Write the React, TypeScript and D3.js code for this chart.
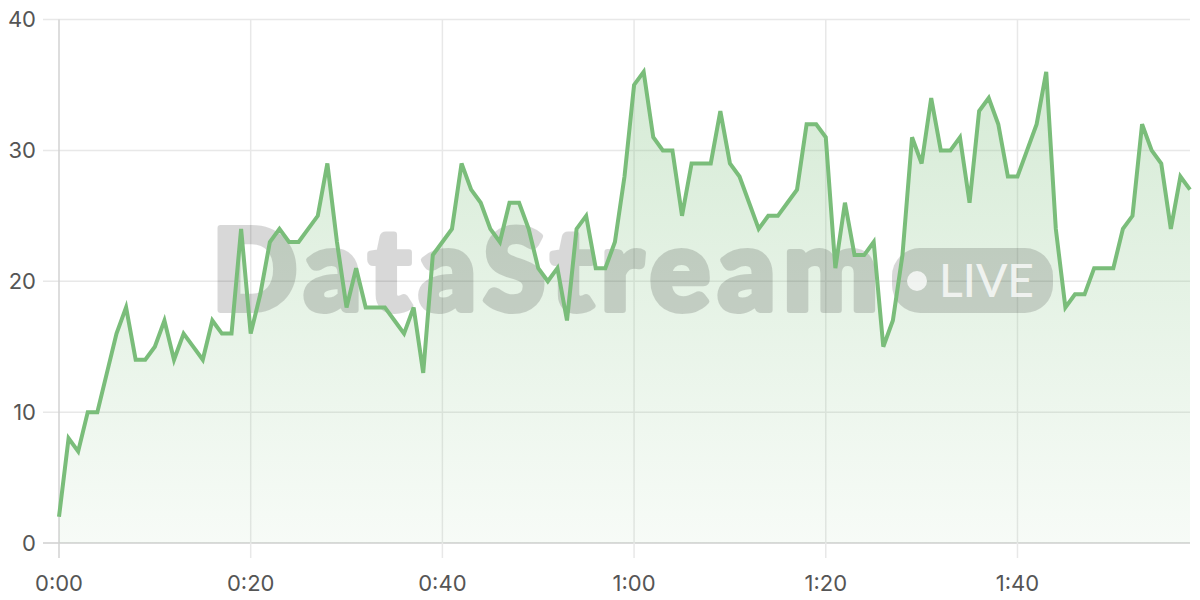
import React from "react";
import * as d3 from "d3";

const seconds: number[] = d3.range(0, 119);
const values: number[] = [
  2, 8, 7, 10, 10, 13, 16, 18, 14, 14, 15, 17, 14, 16, 15, 14, 17, 16, 16, 24,
  16, 19, 23, 24, 23, 23, 24, 25, 29, 23, 18, 21, 18, 18, 18, 17, 16, 18, 13, 22,
  23, 24, 29, 27, 26, 24, 23, 26, 26, 24, 21, 20, 21, 17, 24, 25, 21, 21, 23, 28,
  35, 36, 31, 30, 30, 25, 29, 29, 29, 33, 29, 28, 26, 24, 25, 25, 26, 27, 32, 32,
  31, 21, 26, 22, 22, 23, 15, 17, 22, 31, 29, 34, 30, 30, 31, 26, 33, 34, 32, 28,
  28, 30, 32, 36, 24, 18, 19, 19, 21, 21, 21, 24, 25, 32, 30, 29, 24, 28, 27,
];
const xTicks: number[] = [0, 20, 40, 60, 80, 100];
const yTicks: number[] = [0, 10, 20, 30, 40];

const W = 1200;
const H = 600;
const left = 59;
const right = 1190;
const top = 19.5;
const bottom = 543;

const fmt = (s: number) => `${Math.floor(s / 60)}:${String(s % 60).padStart(2, "0")}`;

export default function App() {
  const x = d3.scaleLinear().domain([0, 118]).range([left, right]);
  const y = d3.scaleLinear().domain([0, 40]).range([bottom, top]);
  const data = seconds.map((s, i) => ({ s, v: values[i] }));
  const line = d3
    .line<{ s: number; v: number }>()
    .x((d) => x(d.s))
    .y((d) => y(d.v));
  const area = d3
    .area<{ s: number; v: number }>()
    .x((d) => x(d.s))
    .y0(bottom)
    .y1((d) => y(d.v));
  const font = "Inter, 'DejaVu Sans', sans-serif";
  return (
    <svg
      width={W}
      height={H}
      style={{ position: "absolute", left: 0, top: 0, background: "#fff" }}
    >
      <defs>
        <linearGradient id="fillGrad" x1="0" y1={top} x2="0" y2={bottom} gradientUnits="userSpaceOnUse">
          <stop offset="0%" stopColor="rgb(122,190,122)" stopOpacity={0.34} />
          <stop offset="100%" stopColor="rgb(122,190,122)" stopOpacity={0.06} />
        </linearGradient>
      </defs>
      {yTicks.map((t) => (
        <line
          key={"hy" + t}
          x1={43}
          x2={right}
          y1={y(t)}
          y2={y(t)}
          stroke={t === 0 ? "#cfcfcf" : "#e8e8e8"}
          strokeWidth={1.5}
        />
      ))}
      {xTicks.map((t) => (
        <line
          key={"vx" + t}
          x1={x(t)}
          x2={x(t)}
          y1={top}
          y2={558}
          stroke={t === 0 ? "#d2d2d2" : "#e8e8e8"}
          strokeWidth={1.5}
        />
      ))}
      <path d={area(data) || ""} fill="url(#fillGrad)" />
      <g opacity={0.15}>
        <text
          x={212}
          y={310}
          fontFamily="Lato, 'Noto Sans', sans-serif"
          fontWeight={900}
          fontSize={112}
          textLength={666}
          lengthAdjust="spacing"
          fill="#000"
          stroke="#000"
          strokeWidth={6}
          strokeLinejoin="round"
        >
          DataStream
        </text>
        <rect x={892} y={248} width={161} height={65} rx={28} fill="#000" />
      </g>
      <circle cx={917} cy={281} r={10} fill="rgba(255,255,255,0.75)" />
      <text
        x={939}
        y={297}
        fontFamily="Lato, 'Noto Sans', sans-serif"
        fontWeight={500}
        fontSize={47}
        textLength={95}
        lengthAdjust="spacingAndGlyphs"
        fill="rgba(255,255,255,0.75)"
      >
        LIVE
      </text>
      <path
        d={line(data) || ""}
        fill="none"
        stroke="#7abd7a"
        strokeWidth={4}
        strokeLinejoin="miter"
      />
      {yTicks.map((t) => (
        <text
          key={"yl" + t}
          x={36}
          y={y(t)}
          dy="0.36em"
          textAnchor="end"
          fontFamily={font}
          fontSize={22}
          fill="#555"
        >
          {t}
        </text>
      ))}
      {xTicks.map((t) => (
        <text
          key={"xl" + t}
          x={x(t)}
          y={591}
          textAnchor="middle"
          fontFamily={font}
          fontSize={22}
          fill="#555"
        >
          {fmt(t)}
        </text>
      ))}
    </svg>
  );
}
